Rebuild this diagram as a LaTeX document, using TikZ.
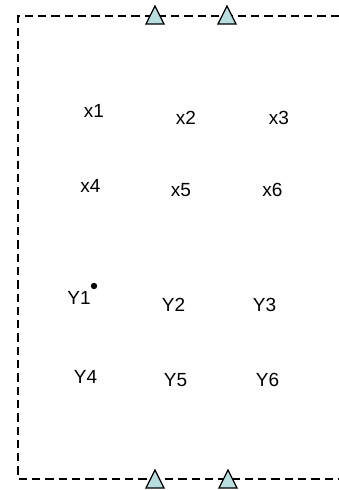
\documentclass[tikz,border=0pt]{standalone}
\usepackage{fontspec}
\setmainfont{Liberation Sans}
\begin{document}
\begin{tikzpicture}[x=1pt,y=-1pt,
  frame/.style={line width=1.4pt,dash pattern=on 8.3pt off 5pt},
  tri/.style={draw=black,line width=1.3pt,fill=tricol},
  lbl/.style={font=\fontsize{19}{23}\selectfont,inner sep=0pt,anchor=center}]
\definecolor{tricol}{RGB}{185,222,224}
\useasboundingbox (0,0) rectangle (339,490);
\coordinate (tl) at (18,16);
\coordinate (tr) at (339,16);
\coordinate (bl) at (18,479);
\coordinate (br) at (339,479);
\draw[frame] (tr) -- (tl) -- (bl) -- (br);
\foreach \n/\x in {t1/155,t2/227}{
  \draw[tri] (\x-9,24) -- (\x,6) -- (\x+9,24) -- cycle;}
\foreach \n/\x in {b1/155,b2/228}{
  \draw[tri] (\x-9,488) -- (\x,470) -- (\x+9,488) -- cycle;}
\node[lbl] (x1) at (94,111) {x1};
\node[lbl] (x2) at (186,117.5) {x2};
\node[lbl] (x3) at (279,117.5) {x3};
\node[lbl] (x4) at (90.5,186) {x4};
\node[lbl] (x5) at (181,190) {x5};
\node[lbl] (x6) at (272.5,190) {x6};
\node[lbl] (y1) at (79,298) {Y1};
\node[lbl] (y2) at (173.5,304.5) {Y2};
\node[lbl] (y3) at (264.5,304.5) {Y3};
\node[lbl] (y4) at (85.5,376.5) {Y4};
\node[lbl] (y5) at (175.5,380) {Y5};
\node[lbl] (y6) at (267.5,380) {Y6};
\fill (94,286) circle (3.2pt);
\end{tikzpicture}
\end{document}
